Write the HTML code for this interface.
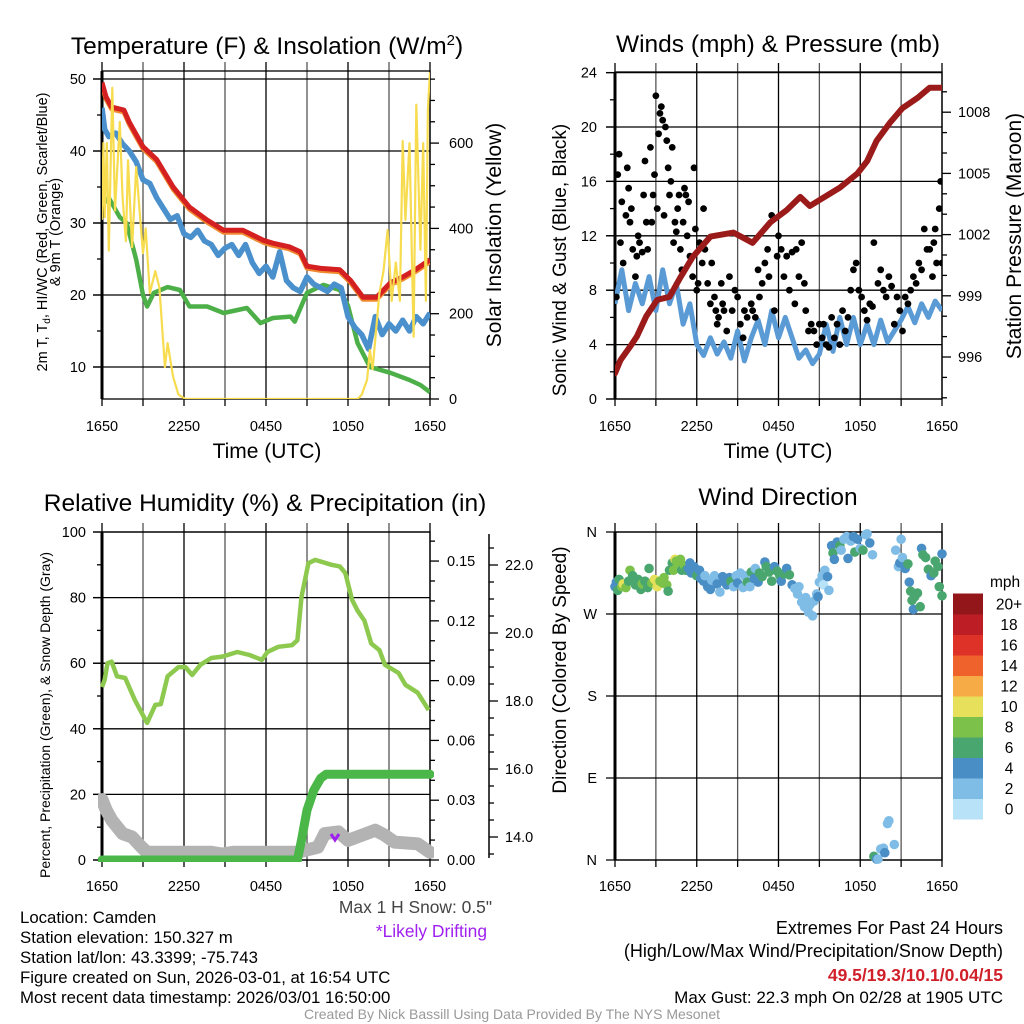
<!DOCTYPE html>
<html><head><meta charset="utf-8"><style>
html,body{margin:0;padding:0;background:#fff;}
svg{display:block;font-family:"Liberation Sans",Arial,sans-serif;}
</style></head><body>
<svg id="chart" width="1024" height="1024" viewBox="0 0 1024 1024" xmlns="http://www.w3.org/2000/svg">
<defs>
<clipPath id="c1"><rect x="102" y="71" width="328" height="328"/></clipPath>
<clipPath id="c2"><rect x="615" y="72" width="327" height="327"/></clipPath>
<clipPath id="c3"><rect x="98" y="532" width="336" height="330"/></clipPath>
<clipPath id="c4"><rect x="605" y="525" width="345" height="340"/></clipPath>
</defs>
<g id="g1"></g>
<g id="g2"></g>
<g id="g3"></g>
<g id="g4"></g>

<text x="267" y="54" font-size="24.5" text-anchor="middle">Temperature (F) &amp; Insolation (W/m<tspan dy="-9" font-size="15">2</tspan><tspan dy="9">)</tspan></text>
<text x="778" y="52" font-size="24.5" text-anchor="middle">Winds (mph) &amp; Pressure (mb)</text>
<text x="265" y="511" font-size="24.5" text-anchor="middle">Relative Humidity (%) &amp; Precipitation (in)</text>
<text x="778" y="505" font-size="24.5" text-anchor="middle">Wind Direction</text>

<text transform="translate(47,232) rotate(-90)" font-size="14.5" text-anchor="middle">2m T, T<tspan font-size="10" dy="3">d</tspan><tspan dy="-3">, HI/WC (Red, Green, Scarlet/Blue)</tspan></text>
<text transform="translate(60,232) rotate(-90)" font-size="14.5" text-anchor="middle">&amp; 9m T (Orange)</text>
<text transform="translate(501,235) rotate(-90)" font-size="21" text-anchor="middle">Solar Insolation (Yellow)</text>
<text x="267" y="458" font-size="21" text-anchor="middle">Time (UTC)</text>
<text transform="translate(566,260) rotate(-90)" font-size="19" text-anchor="middle">Sonic Wind &amp; Gust (Blue, Black)</text>
<text transform="translate(1021,236) rotate(-90)" font-size="21" text-anchor="middle">Station Pressure (Maroon)</text>
<text x="778" y="458" font-size="21" text-anchor="middle">Time (UTC)</text>
<text transform="translate(50,715) rotate(-90)" font-size="14" text-anchor="middle">Percent, Precipitation (Green), &amp; Snow Depth (Gray)</text>
<text transform="translate(566,670) rotate(-90)" font-size="19" text-anchor="middle">Direction (Colored By Speed)</text>

<text x="492" y="913" font-size="17.4" fill="#444" text-anchor="end">Max 1 H Snow: 0.5"</text>
<text x="487" y="937" font-size="17.4" fill="#a020f0" text-anchor="end">*Likely Drifting</text>

<g font-size="16.8">
<text x="20" y="923">Location: Camden</text>
<text x="20" y="943">Station elevation: 150.327 m</text>
<text x="20" y="963">Station lat/lon: 43.3399; -75.743</text>
<text x="20" y="983">Figure created on Sun, 2026-03-01, at 16:54 UTC</text>
<text x="20" y="1003">Most recent data timestamp: 2026/03/01 16:50:00</text>
</g>
<g font-size="18" text-anchor="end">
<text x="1003" y="934">Extremes For Past 24 Hours</text>
<text x="1003" y="957">(High/Low/Max Wind/Precipitation/Snow Depth)</text>
<text x="1003" y="981" fill="#d0202a" font-weight="bold" font-size="17.5">49.5/19.3/10.1/0.04/15</text>
<text x="1003" y="1003" font-size="17">Max Gust: 22.3 mph On 02/28 at 1905 UTC</text>
</g>
<text x="512" y="1019" font-size="14" fill="#999" text-anchor="middle">Created By Nick Bassill Using Data Provided By The NYS Mesonet</text>
</svg>
<script>
// ---------- data ----------
const timeTickLabels = ["1650","2250","0450","1050","1650"];
const tempHours = [0,0.3,0.7,1.6,2,3,4,5.2,6.4,7.7,8.9,10.3,11.8,12.5,13.7,14.5,15,16,17.4,18.2,19.1,20.1,21.1,22,23,24];
const tempVals  = [49.5,47.5,46.1,45.7,44,40.6,38.8,35,32.2,30.4,29,29,27.6,27.2,26.7,26,24,23.7,23.5,22,19.7,19.7,21.7,22.5,23.6,24.9];
const wcHours = [0,0.2,0.5,1,1.5,2,2.5,3,3.5,4,4.5,5,5.5,6,6.5,7,7.5,8,8.5,9,9.5,10,10.5,11,11.5,12,12.5,13,13.5,14,14.5,15,15.5,16,16.5,17,17.5,18,18.5,19,19.5,20,20.5,21,21.5,22,22.5,23,23.5,24];
const wcVals  = [46,43,42,42.5,41,40,38.5,36,35.5,33.5,32,30.5,31,28.5,28,29,27.5,27,25.5,26.5,27,25.5,27,24.5,23,24,22.5,26,22,21,20.5,22.5,21.5,21,20.5,21.5,21,17,15.5,14.5,12.5,17,14.5,16,15,16.5,15,17,16,17.5];
const dewHours = [0,0.5,1.3,1.8,2.5,3,3.3,3.8,4.8,5.7,6.4,7.7,8.9,10.6,11.6,12.5,13.8,14.1,15,16.2,17.4,18,18.7,19.6,21.1,22.5,23.3,24];
const dewVals  = [32.5,33.5,30.8,30,24.9,20,18.4,20.3,21.1,20.7,18.4,18.4,17.5,18.2,16.1,16.8,17,16.3,20.3,21.4,20.7,18.5,13.3,10,9.2,8.2,7.5,6.5];
const solarHours = [0,0.1,0.2,0.35,0.5,0.75,0.95,1.3,1.5,1.75,1.9,2.2,2.5,2.8,3,3.2,3.5,3.9,4.2,4.6,4.8,5.2,5.6,6.1,18.7,19,19.4,19.6,19.8,20.3,20.6,20.9,21.2,21.5,21.8,22,22.2,22.5,22.8,23,23.3,23.5,23.7,23.85,24];
const solarVals  = [420,600,426,600,348,730,442,650,475,370,560,356,544,420,342,400,248,300,262,75,131,52,10,0,0,10,45,115,70,248,300,396,230,320,230,605,420,600,146,690,350,600,230,680,766];
const presHours = [0,0.4,1.1,1.6,2.3,3.1,4,4.8,5.7,7,8.7,10.1,11.4,12.6,13.6,14.3,16,16.5,17.8,18.5,19.2,20.2,21.1,22.2,23.1,24];
const presVals  = [995.2,995.85,996.5,997,998,998.8,998.95,999.9,1000.9,1001.9,1002.1,1001.6,1002.6,1003.2,1003.85,1003.4,1004.1,1004.3,1005,1005.6,1006.6,1007.5,1008.2,1008.7,1009.2,1009.2];
const windHours = [0,0.5,1,1.5,2,2.5,3,3.5,4,4.5,5,5.5,6,6.5,7,7.5,8,8.5,9,9.5,10,10.5,11,11.5,12,12.5,13,13.5,14,14.5,15,15.5,16,16.5,17,17.5,18,18.5,19,19.5,20,20.5,21,21.5,22,22.5,23,23.5,24];
const windVals  = [7,9.5,6.5,8.5,7,9,6.5,9.5,7,8.5,5.5,7,4,3.2,4.5,3.3,4.2,3,5,2.8,4.5,5.8,4,6.5,4.5,6,4.5,3,3.6,2.6,3.3,5.5,3.5,6,4,6,4,5.5,4,5.8,4.2,5,5.8,6.8,5.6,7,6,7.2,6.5];
const gustHours = [0.1,0.2,0.3,0.4,0.5,0.6,0.8,0.9,1.0,1.1,1.2,1.3,1.5,1.6,1.7,1.8,2.0,2.1,2.2,2.3,2.4,2.6,2.7,2.8,2.9,3.0,3.1,3.2,3.3,3.4,3.5,3.6,3.7,3.8,3.9,4.0,4.1,4.2,4.3,4.4,4.5,4.6,4.7,4.8,4.9,5.0,5.1,5.2,5.3,5.4,5.5,5.7,5.8,5.9,6.0,6.1,6.2,6.4,6.5,6.6,6.8,7.0,7.1,7.3,7.4,7.5,7.6,7.8,7.9,8.0,8.2,8.4,8.6,8.8,9.0,9.2,9.4,9.5,9.7,10.0,10.1,10.3,10.5,10.6,10.8,11.0,11.2,11.3,11.5,11.7,11.9,12.0,12.2,12.4,12.6,12.8,13.0,13.2,13.3,13.5,13.7,13.9,14.0,14.2,14.4,14.6,14.8,15.0,15.2,15.3,15.5,15.7,15.9,16.1,16.3,16.5,16.7,16.9,17.1,17.3,17.5,17.7,17.9,18.1,18.3,18.5,18.7,18.9,19.0,19.3,19.5,19.7,19.9,20.1,20.3,20.5,20.7,20.9,21.1,21.3,21.5,21.7,21.9,22.1,22.3,22.5,22.7,22.9,23.1,23.3,23.4,23.5,23.6,23.8,23.9,24.0];
const gustVals  = [7.5,16.5,18,11.5,14.5,10,13.5,17,15.5,13,14,11,9,10.5,12,11.5,10.8,15,17.5,13,11,18.5,13,15,16.5,22.3,14,19.5,21,21.5,20.5,13.5,20,19,17,15,16,18.5,11.5,13,12.3,14,15,11,9.5,13,15.5,15,12,14.5,10.5,9,17,12.5,8,8.5,11.5,10,14,11,8.5,7,10,7.5,6.5,5.5,6,8.5,7,6.5,5,9,6.5,8,7.5,5.5,4.5,6.5,6,7,6.5,6,9.5,7.5,8.5,10,11,9,13.5,6.5,10.5,12,11,9,10.5,8,10.8,7,11,9,11.5,8.5,6.5,5,5.5,5,4,5.5,4.5,5.5,4,3.8,6,4.5,5.5,4,6.5,5,6,8,9.5,10,8,7.5,6.5,5.8,7,6.8,11.5,8.5,9.5,8,7.5,9,8.3,5.5,7.5,6.5,5,7.5,7,8,9,8.5,10,9.5,12.5,11,11,9,11.5,12.5,10,14,16,10];
const rhHours = [0,0.2,0.4,0.7,1.1,1.7,2.4,3.3,3.9,4.3,4.8,5.6,6.1,6.6,7.2,8,8.8,9.9,10.8,11.7,12.1,12.9,13.9,14.3,14.6,15.1,15.6,16.8,17.4,17.8,18.3,18.7,19.2,19.7,20.3,20.7,21.7,22.2,23.1,23.9];
const rhVals  = [52.7,55,60,60.5,56,55.5,48.8,41.8,47.3,47.5,56,58.8,58.8,56.4,59.5,61.6,62,63.4,62.5,61,63.4,65,65.5,67,80.2,90.5,91.5,90,89.5,87.5,79.3,76,73,66,64,59.5,57,53.4,51,45.7];
const precipHours = [0,14.3,14.6,15,15.5,16,16.4,24];
const precipVals  = [0,0,0.01,0.025,0.035,0.041,0.043,0.043];
const snowHours = [0,0.3,0.7,1.5,2.2,2.9,3.3,8,8.8,9.6,14.3,15.8,16.3,17.3,18,19,20,20.7,21.4,23.1,24];
const snowVals  = [15.1,14.8,14.5,14.1,14,13.7,13.55,13.55,13.5,13.55,13.55,13.7,14.1,14.15,13.9,14.05,14.2,14.05,13.85,13.8,13.55];
const dirHours = [0,0.1,0.2,0.3,0.5,0.6,0.8,1.0,1.1,1.3,1.5,1.7,1.9,2.0,2.2,2.4,2.5,2.7,2.9,3.1,3.3,3.5,3.6,3.8,3.9,4.0,4.2,4.3,4.4,4.5,4.6,4.8,4.9,5.1,5.2,5.4,5.5,5.6,5.8,5.9,6.0,6.2,6.3,6.5,6.6,6.8,7.0,7.1,7.3,7.5,7.7,7.9,8.0,8.2,8.4,8.5,8.7,8.9,9.0,9.2,9.4,9.5,9.7,9.9,10.0,10.2,10.3,10.5,10.6,10.8,11.0,11.1,11.3,11.5,11.7,11.9,12.1,12.2,12.4,12.6,12.8,13.0,13.2,13.4,13.5,13.7,13.9,14.0,14.2,14.3,14.5,14.6,14.8,14.9,15.0,15.2,15.3,15.4,15.6,15.7,15.9,16.0,16.1,16.3,16.5,16.6,16.8,17.0,17.1,17.3,17.5,17.6,17.8,18.0,18.2,18.4,18.5,18.7,18.9,19.0,19.2,19.3,19.5,19.7,19.8,20.0,20.1,20.5,20.6,20.8,20.9,21.0,21.1,21.3,21.5,21.6,21.7,21.8,21.9,22.0,22.2,22.4,22.5,22.6,22.8,23.0,23.2,23.4,23.5,23.7,23.8,24.0,24.0];
const dirVals = [300,305,296,308,300,303,299,306,318,312,302,308,297,303,306,299,320,304,308,300,306,304,310,302,295,318,326,318,330,328,323,330,318,323,318,320,326,315,322,317,312,318,309,306,312,300,297,307,312,303,294,311,306,302,310,306,300,312,304,315,299,312,305,300,316,309,320,305,315,311,327,322,316,306,322,317,312,306,314,320,313,302,298,292,300,283,278,288,272,280,268,284,292,289,305,312,302,318,311,296,345,337,330,349,345,340,352,355,331,350,355,338,352,342,340,357,358,348,335,4,1,1,12,13,8,40,43,17,340,322,326,352,332,320,325,305,295,285,275,289,293,278,342,335,332,319,312,315,328,322,300,336,290];
const dirSpeeds = [5,4,6.5,7,9,10.5,9.5,7,8.5,7.5,6.5,6.5,7,9,7,6,6,9.5,10.5,10.5,8.5,8,9.5,8,6.5,7,7,8.5,10.5,8,9,8,6.5,8.5,6,4,5,5,5,4,6,4.5,5,4,3.5,4.5,4.5,3,2.5,4,3,5,4,4.5,4,6,3,3,4,3.5,2.5,2.5,6,3,6,4,3,4,6,6.5,4,6.5,6,6.5,4,6,6.5,4,6,4,6,4,2.5,2.5,2.5,2.5,2.5,3,2.5,2.5,2.5,2.5,2.5,4,2.5,2.5,1.5,2.5,4,2.5,4,6,4,4,6,3,2.5,2.5,4,2.5,4,6,4,2.5,6,3,2.5,4,2.5,6,4,3,2.5,2.5,4,2.5,2.5,2.5,2.5,2.5,4,2.5,2.5,4,6,4,6,6,4,6,6,6,4,6,6,6,4,6,6,6,6,4,6,4];
const speedBinLabels = ["0","2","4","6","8","10","12","14","16","18","20+"];
const speedBinColors = ["#b8e2f8","#80bde6","#4a8ec6","#4aa66f","#7cc24a","#e7e05a","#f6ab46","#f0622b","#de3127","#bd1d24","#92161a"];

// ---------- helpers ----------
const NS = "http://www.w3.org/2000/svg";
function mk(tag, parent, attrs){ const e=document.createElementNS(NS,tag); for(const k in attrs) e.setAttribute(k,attrs[k]); parent.appendChild(e); return e; }
function pathD(xs, ys, fx, fy){ let d=""; for(let i=0;i<xs.length;i++){ d+=(i?"L":"M")+fx(xs[i]).toFixed(1)+","+fy(ys[i]).toFixed(1);} return d; }
function txt(parent, x, y, s, size, anchor){ const t=mk("text",parent,{x:x,y:y,"font-size":size,"text-anchor":anchor}); t.textContent=s; return t; }

function frame(g, x0, x1, y0, y1, hGrid, labelY){
  const fx = h => x0 + (x1-x0)*h/24;
  for(let h=0; h<=24; h+=3){
    const l=mk("line",g,{x1:fx(h),x2:fx(h),y1:y0-9,y2:y1,stroke:(h%6===0?"#000":"#555"),"stroke-width":1.3});
    
    
    const t=mk("line",g,{x1:fx(h),x2:fx(h),y1:y1,y2:y1+7,stroke:"#000","stroke-width":1.3});
    
    
  }
  hGrid.forEach(y=>{
    const l=mk("line",g,{x1:x0-9,x2:x1,y1:y,y2:y,stroke:"#000","stroke-width":1.3});
    
    
  });
  const r=mk("rect",g,{x:x0,y:y0,width:x1-x0,height:y1-y0,fill:"none",stroke:"#000","stroke-width":1.3});
  
  
  const sp=mk("line",g,{x1:x0,x2:x0,y1:y0,y2:y1,stroke:"#000","stroke-width":3});
  
  
  timeTickLabels.forEach((s,i)=>{
    const t=txt(g, fx(i*6), labelY, s, 14.5, "middle");
    
    
  });
  return fx;
}

// ---------- Panel 1 ----------
(function(){
  const g=document.getElementById("g1");
  const x0=102,x1=430,y0=71,y1=399;
  const fy = T => 79 + (50-T)*7.2;
  const fs = W => 399 - W*0.4265;
  const grid=[10,20,30,40,50].map(fy);
  const fx=frame(g,x0,x1,y0,y1,grid,431);
  for(let T=10;T<=50;T+=5){
    const m=mk("line",g,{x1:x0-(T%10?5:9),x2:x0,y1:fy(T),y2:fy(T),stroke:"#000","stroke-width":1.3});
    
    
    if(T%10===0){ const t=txt(g,86,fy(T)+5,String(T),14.5,"end");
      
       }
  }
  for(let W=0;W<=750;W+=50){
    const m=mk("line",g,{x1:x1,x2:x1+(W%200===0?9:5),y1:fs(W),y2:fs(W),stroke:"#000","stroke-width":1.3});
    
    
    if(W%200===0){ const t=txt(g,449,fs(W)+5,String(W),14.5,"start");
      
       }
  }
  const c=mk("g",g,{"clip-path":"url(#c1)"});
  const dew=mk("path",c,{d:pathD(dewHours,dewVals,fx,fy),fill:"none",stroke:"#4caf48","stroke-width":4.5,"stroke-linejoin":"round"});
  
  
  const wc=mk("path",c,{d:pathD(wcHours,wcVals,fx,fy),fill:"none",stroke:"#4a90cd","stroke-width":5.5,"stroke-linejoin":"round"});
  
  
  const or=mk("path",c,{d:pathD(tempHours,tempVals,fx,T=>fy(T)+2),fill:"none",stroke:"#f08a30","stroke-width":5,"stroke-linejoin":"round"});
  
  
  const red=mk("path",c,{d:pathD(tempHours,tempVals,fx,fy),fill:"none",stroke:"#d42020","stroke-width":5,"stroke-linejoin":"round"});
  
  
  const sol=mk("path",c,{d:pathD(solarHours,solarVals,fx,fs),fill:"none",stroke:"#f7dc4f","stroke-width":2.2,"stroke-linejoin":"round"});
  
  
})();

// ---------- Panel 2 ----------
(function(){
  const g=document.getElementById("g2");
  const x0=615,x1=942,y0=72,y1=399;
  const fy = v => 399 - v*13.6;
  const fp = P => 357 - (P-996)*20.4;
  const grid=[0,4,8,12,16,20,24].map(fy);
  const fx=frame(g,x0,x1,y0,y1,grid,431);
  for(let v=0;v<=24;v+=2){
    const m=mk("line",g,{x1:x0-(v%4?5:9),x2:x0,y1:fy(v),y2:fy(v),stroke:"#000","stroke-width":1.3});
    
    
    if(v%4===0){ const t=txt(g,597,fy(v)+5,String(v),14.5,"end");
      
       }
  }
  for(let P=994;P<=1010;P++){
    if(fp(P)<y0||fp(P)>y1) continue;
    const m=mk("line",g,{x1:x1,x2:x1+(P%3===0?9:5),y1:fp(P),y2:fp(P),stroke:"#000","stroke-width":1.3});
    
    
    if(P%3===0){ const t=txt(g,958,fp(P)+5,String(P),14.5,"start");
      
       }
  }
  const c=mk("g",g,{"clip-path":"url(#c2)"});
  const w=mk("path",c,{d:pathD(windHours,windVals,fx,fy),fill:"none",stroke:"#5b9bd5","stroke-width":5,"stroke-linejoin":"round"});
  
  
  gustHours.forEach((h,i)=>{
    const d=mk("circle",c,{cx:fx(h),cy:fy(gustVals[i]),r:3.4,fill:"#000"});
    
    
  });
  const p=mk("path",c,{d:pathD(presHours,presVals,fx,fp),fill:"none",stroke:"#9b1b1b","stroke-width":6,"stroke-linejoin":"round","stroke-linecap":"round"});
  
  
})();

// ---------- Panel 3 ----------
(function(){
  const g=document.getElementById("g3");
  const x0=102,x1=430,y0=532,y1=860;
  const fy = r => 860 - r*3.28;
  const fpr = p => 860 - p*1993;
  const fsn = s => 837 - (s-14)*34;
  const grid=[0,20,40,60,80,100].map(fy);
  const fx=frame(g,x0,x1,y0,y1,grid,891);
  for(let r=0;r<=100;r+=10){
    const m=mk("line",g,{x1:x0-(r%20?5:9),x2:x0,y1:fy(r),y2:fy(r),stroke:"#000","stroke-width":1.3});
    
    
    if(r%20===0){ const t=txt(g,86,fy(r)+5,String(r),14.5,"end");
      
       }
  }
  const precipLabels=["0.00","0.03","0.06","0.09","0.12","0.15"];
  for(let k=0;k<=16;k++){
    const p=k*0.01;
    const m=mk("line",g,{x1:x1,x2:x1+(k%3===0?9:5),y1:fpr(p),y2:fpr(p),stroke:"#000","stroke-width":1.3});
    
    
    if(k%3===0){ const t=txt(g,447,fpr(p)+5,precipLabels[k/3],14.5,"start");
      
       }
  }
  const sp=mk("line",g,{x1:489,x2:489,y1:y0+2,y2:y1-2,stroke:"#000","stroke-width":1.5});
  
  
  for(let k=0;k<=20;k++){
    const s=13.5+k*0.5;
    if(fsn(s)<y0+3) continue;
    const m=mk("line",g,{x1:489,x2:489+(k%4===1?9:5),y1:fsn(s),y2:fsn(s),stroke:"#000","stroke-width":1.3});
    
    
    if(k%4===1){ const t=txt(g,505,fsn(s)+5,s.toFixed(1),14.5,"start");
      
       }
  }
  const c=mk("g",g,{"clip-path":"url(#c3)"});
  const sn=mk("path",c,{d:pathD(snowHours,snowVals,fx,fsn),fill:"none",stroke:"#b3b3b3","stroke-width":13,"stroke-linejoin":"round","stroke-linecap":"round"});
  
  
  const pr=mk("path",c,{d:pathD(precipHours,precipVals,fx,fpr),fill:"none",stroke:"#4bb749","stroke-width":9,"stroke-linejoin":"round","stroke-linecap":"round"});
  
  
  const rh=mk("path",c,{d:pathD(rhHours,rhVals,fx,fy),fill:"none",stroke:"#8dc94e","stroke-width":4.5,"stroke-linejoin":"round"});
  
  
  const dm=mk("path",c,{d:"M331,834 L335,840 L339,834",fill:"none",stroke:"#a020f0","stroke-width":3});
  
  
})();

// ---------- Panel 4 ----------
(function(){
  const g=document.getElementById("g4");
  const x0=615,x1=942,y0=532,y1=860;
  const fy = d => 860 - d*0.9111;
  const grid=[0,90,180,270,360].map(fy);
  const fx=frame(g,x0,x1,y0,y1,grid,891);
  ["N","E","S","W","N"].forEach((s,i)=>{
    const t=txt(g,597,fy(i*90)+5,s,14.5,"end");
    
    
  });
  const c=mk("g",g,{"clip-path":"url(#c4)"});
  dirHours.forEach((h,i)=>{
    const bin=Math.min(10,Math.floor(dirSpeeds[i]/2));
    const d=mk("circle",c,{cx:fx(h),cy:fy(dirVals[i]),r:4.8,fill:speedBinColors[bin]});
    
    
  });
  const t=txt(g,990,587,"mph",15.5,"start");
  
  
  const bh=20.5;
  speedBinColors.forEach((col,i)=>{
    const y=819 - (i+1)*bh;
    const r=mk("rect",g,{x:953,y:y,width:30,height:bh+0.5,fill:col});
    
    
    const l=txt(g,1009,y+bh/2+5.5,speedBinLabels[i],15.5,"middle");
    
    
  });
})();
</script>
</body></html>
